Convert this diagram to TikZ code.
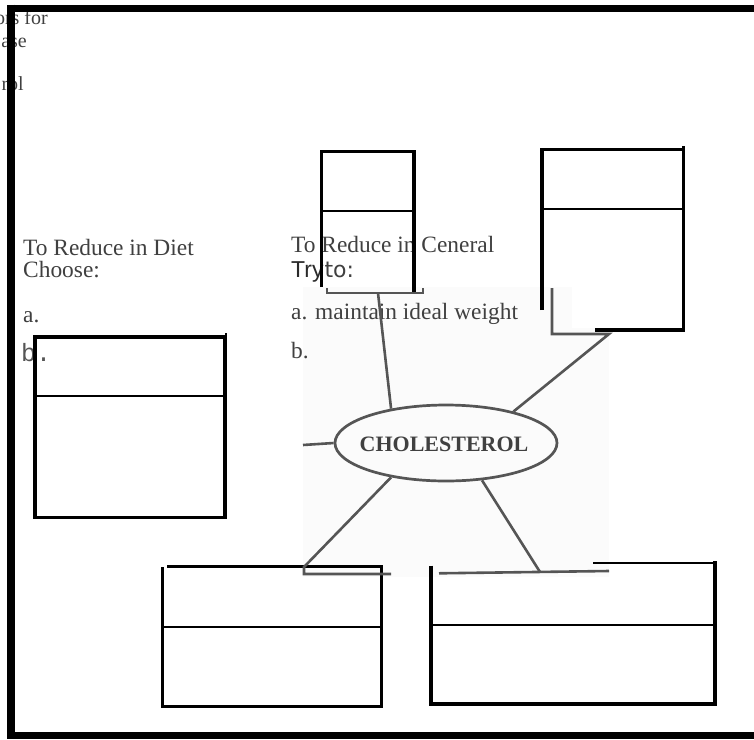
\documentclass[tikz,border=0pt]{standalone}
\usepackage{fontspec}
\setmainfont{Liberation Serif}
\newfontfamily\sansf{Liberation Sans}
\newfontfamily\dejasans{DejaVu Sans}
\newfontfamily\monof{Liberation Mono}
\usetikzlibrary{shapes.geometric}
\definecolor{txt}{HTML}{404040}
\definecolor{conn}{HTML}{555555}
\definecolor{patch}{HTML}{FBFBFB}
\tikzset{
  frame/.style={line width=7.5pt},
  boxline/.style={line width=3.2pt, line join=miter},
  divline/.style={line width=2pt},
  connline/.style={draw=conn, line width=2.6pt},
  lbl/.style={anchor=base west, inner sep=0pt, text=txt, text depth=0pt, font=\fontsize{23.4}{26}\selectfont},
  smalllbl/.style={anchor=base east, inner sep=0pt, text=txt, text depth=0pt, font=\fontsize{20}{22}\selectfont},
}
\begin{document}
\begin{tikzpicture}[x=1pt,y=-1pt]
\useasboundingbox (0,0) rectangle (754,739);
\fill[white] (0,0) rectangle (754,739);
\fill[patch] (303,287) rectangle (609,577);
\fill[white] (572,287) rectangle (682,328);

% clipped texts top left
\node[smalllbl] (s1) at (48,24.5) {ors for};
\node[smalllbl] (s2) at (27,47) {ase};
\node[smalllbl] (s3) at (24,90) {rol};

% left text block
\node[lbl] (d1) at (23,255) {To Reduce in Diet};
\node[lbl, text height=15pt] (d2) at (23,277) {Choose:};
\node[lbl] (d3) at (23,322) {a.};
\node[anchor=base west, inner sep=0pt, text=conn, font=\monof\fontsize{25}{27}\selectfont] (d4) at (21,361) {b.};

% middle text block
\node[lbl] (g1) at (291,252) {To Reduce in Ceneral};
\node[anchor=base west, inner sep=0pt, text depth=0pt] (g2) at (291,277)
  {{\sansf\fontsize{23}{25}\selectfont\textcolor[HTML]{2A2A2A}{Try}}\hspace{1pt}{\dejasans\fontsize{22}{24}\selectfont\textcolor{txt}{to:}}};
\node[lbl] (g3) at (291,319) {a. maintain ideal weight};
\node[lbl] (g4) at (291,358) {b.};

% frame
\draw[frame] (7,8.5) -- (754,8.5);
\draw[frame] (11,4.7) -- (11,739);
\draw[frame] (7,735.5) -- (754,735.5);

% box A (top middle)
\draw[boxline] (321.5,287) -- (321.5,151.7) -- (414,151.7) -- (414,292);
\draw[divline] (321.5,211) -- (414,211);
% box B (top right)
\draw[boxline] (542,310) -- (542,149.5) -- (683.5,149.5);
\draw[boxline] (683.5,146) -- (683.5,330) -- (595,330);
\draw[divline] (542,208.7) -- (683.5,208.7);
% box E (left)
\draw[boxline] (35,337) rectangle (225,517.3);
\draw[boxline] (225,335) -- (226.5,335);
\draw[divline] (35,396) -- (225,396);
% box C (bottom left)
\draw[boxline] (162.3,567) -- (162.3,706.7) -- (381.7,706.7) -- (381.7,566.7) -- (166.7,566.7);
\draw[divline] (162.3,627.3) -- (381.7,627.3);
% box D (bottom right)
\draw[boxline] (431,565.7) -- (431,704) -- (715,704) -- (715,560.7);
\draw[divline] (593,563.3) -- (715,563.3);
\draw[divline] (431,625) -- (715,625);

% centre
\node[ellipse, draw=conn, line width=2.7pt, minimum width=222pt, minimum height=76pt, inner sep=0pt] (chol) at (446,443) {};
\node[inner sep=0pt, text=txt, font=\bfseries\fontsize{22}{24}\selectfont] (chollbl) at (444,444) {CHOLESTEROL};

\coordinate (ca) at (378,293);
\coordinate (cb) at (609,334);
\coordinate (cl) at (303,445);
\coordinate (cc) at (304,567);
\coordinate (cd) at (540,572);

\draw[connline] (327,288) -- (327,293) -- (423,293) -- (423,288);
\draw[connline] (chol.148) -- (ca);
\draw[connline, line join=miter] (chol.25) -- (cb) -- (552,334) -- (552,288);
\draw[connline] (chol.180) -- (cl);
\draw[connline] (chol.212) -- (cc) -- (304,574) -- (391,574);
\draw[connline] (chol.314) -- (cd);
\draw[connline] (439,573.3) -- (609,571);
\end{tikzpicture}
\end{document}
